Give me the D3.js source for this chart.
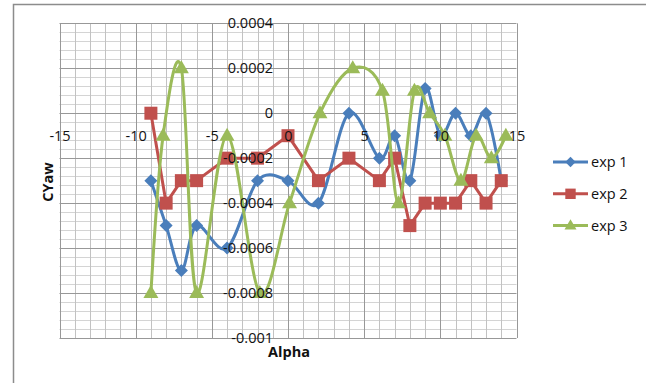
<!DOCTYPE html>
<html>
<head>
<meta charset="utf-8">
<script src="https://cdn.jsdelivr.net/npm/d3@7"></script>
<style>
  html, body { margin: 0; padding: 0; background: #fff; }
  svg { display: block; }
  text { font-family: "Open Sans", "Liberation Sans", sans-serif; fill: #111; }
</style>
</head>
<body>
<svg id="chart" width="646" height="383"></svg>
<script>
// Angle of attack for experiments 1 and 2
const alphaExp12 = [-9, -8, -7, -6, -4, -2, 0, 2, 4, 6, 7, 8, 9, 10, 11, 12, 13, 14];
// Yaw coefficient, experiment 1
const cyawExp1 = [-0.0003, -0.0005, -0.0007, -0.0005, -0.0006, -0.0003, -0.0003, -0.0004, 0,
                  -0.0002, -0.0001, -0.0003, 0.00011, -0.0001, 0, -0.0001, 0, -0.0003];
// Yaw coefficient, experiment 2
const cyawExp2 = [0, -0.0004, -0.0003, -0.0003, -0.0002, -0.0002, -0.0001, -0.0003, -0.0002,
                  -0.0003, -0.0002, -0.0005, -0.0004, -0.0004, -0.0004, -0.0003, -0.0004, -0.0003];
// Angle of attack for experiment 3
const alphaExp3 = [-9, -8.2, -7, -6, -4, -1.85, 0.1, 2.1, 4.25, 6.2, 7.25, 8.3, 9.3, 10.3, 11.35, 12.35, 13.35, 14.3];
// Yaw coefficient, experiment 3
const cyawExp3 = [-0.0008, -0.0001, 0.0002, -0.0008, -0.0001, -0.0008, -0.0004, 0, 0.0002,
                  0.0001, -0.0004, 0.0001, 0, -0.0001, -0.0003, -0.0001, -0.0002, -0.0001];

const seriesNames = ["exp 1", "exp 2", "exp 3"];
const seriesColors = ["#4a7ebb", "#c0504d", "#9bbb59"];
const seriesMarkers = ["diamond", "square", "triangle"];
const seriesSmooth = [true, false, true];

const xTicks = [-15, -10, -5, 0, 5, 10, 15];
const xTickLabels = ["-15", "-10", "-5", "0", "5", "10", "15"];
const yTicks = [0.0004, 0.0002, 0, -0.0002, -0.0004, -0.0006, -0.0008, -0.001];
const yTickLabels = ["0.0004", "0.0002", "0", "-0.0002", "-0.0004", "-0.0006", "-0.0008", "-0.001"];
const xMinorStep = 1;
const yMinorStep = 0.00004;

const series = [
  { x: alphaExp12, y: cyawExp1 },
  { x: alphaExp12, y: cyawExp2 },
  { x: alphaExp3, y: cyawExp3 }
].map((s, i) => ({
  name: seriesNames[i], color: seriesColors[i], marker: seriesMarkers[i], smooth: seriesSmooth[i],
  points: s.x.map((a, j) => ({ a, c: s.y[j] }))
}));

const svg = d3.select("#chart");

// chart area frame
svg.append("rect")
  .attr("x", 13.5).attr("y", 4.5).attr("width", 700).attr("height", 500)
  .attr("fill", "none").attr("stroke", "#8c8c8c").attr("stroke-width", 1.5);

const x = d3.scaleLinear().domain([-15, 15]).range([59.5, 516.5]);
const y = d3.scaleLinear().domain([-0.001, 0.0004]).range([338, 23.3]);

// gridlines: minor first, major on top
const grid = svg.append("g");
const xMinor = d3.range(-15, 15 + 1e-9, xMinorStep).filter(v => Math.abs(v % 5) > 1e-9);
const yMinor = d3.range(-0.001, 0.0004 + 1e-12, yMinorStep)
  .filter(v => Math.abs(Math.round(v / 0.0002) * 0.0002 - v) > 1e-9);
const snap = v => Math.round(v) + 0.5;

grid.selectAll(".ymin").data(yMinor).join("line")
  .attr("x1", x(-15)).attr("x2", x(15))
  .attr("y1", d => snap(y(d))).attr("y2", d => snap(y(d)))
  .attr("stroke", "#d4d4d4").attr("stroke-width", 1);
grid.selectAll(".xmin").data(xMinor).join("line")
  .attr("y1", y(0.0004)).attr("y2", y(-0.001))
  .attr("x1", d => snap(x(d))).attr("x2", d => snap(x(d)))
  .attr("stroke", "#c2c2c2").attr("stroke-width", 1);
grid.selectAll(".ymaj").data(yTicks).join("line")
  .attr("x1", x(-15)).attr("x2", x(15))
  .attr("y1", d => snap(y(d))).attr("y2", d => snap(y(d)))
  .attr("stroke", "#989898").attr("stroke-width", 1);
grid.selectAll(".xmaj").data(xTicks).join("line")
  .attr("y1", y(0.0004)).attr("y2", y(-0.001))
  .attr("x1", d => snap(x(d))).attr("x2", d => snap(x(d)))
  .attr("stroke", "#989898").attr("stroke-width", 1);

// marker shapes centred on (cx, cy)
function drawMarker(g, kind, cx, cy, color, k) {
  k = k || 1;
  if (kind === "diamond") {
    const r = 6.5 * k;
    g.append("path").attr("d", `M${cx},${cy - r}L${cx + r},${cy}L${cx},${cy + r}L${cx - r},${cy}Z`)
      .attr("fill", color);
  } else if (kind === "square") {
    const h = 6.5 * k;
    g.append("rect").attr("x", cx - h).attr("y", cy - h).attr("width", 2 * h).attr("height", 2 * h)
      .attr("fill", color);
  } else {
    const w = 7.5 * k, t = 8 * k, b = 5 * k;
    g.append("path").attr("d", `M${cx},${cy - t}L${cx + w},${cy + b}L${cx - w},${cy + b}Z`)
      .attr("fill", color);
  }
}

// series lines and markers
const plot = svg.append("g");
series.forEach(s => {
  const line = d3.line()
    .x(d => x(d.a)).y(d => y(d.c))
    .curve(s.smooth ? d3.curveCardinal.tension(0) : d3.curveLinear);
  const g = plot.append("g");
  g.append("path").datum(s.points)
    .attr("d", line).attr("fill", "none")
    .attr("stroke", s.color).attr("stroke-width", 3)
    .attr("stroke-linejoin", "round").attr("stroke-linecap", "round");
  s.points.forEach(p => drawMarker(g, s.marker, x(p.a), y(p.c), s.color));
});

// axes (labels only, drawn above the data)
const fontSize = "14.5px";
const xAxis = svg.append("g")
  .attr("transform", `translate(0,${y(0)})`)
  .call(d3.axisBottom(x).tickValues(xTicks).tickFormat((d, i) => xTickLabels[i]).tickSize(0).tickPadding(18));
xAxis.select(".domain").remove();
xAxis.selectAll("text").attr("font-size", fontSize).attr("fill", "#111")
  .attr("font-family", "'Open Sans', sans-serif");

const yAxis = svg.append("g")
  .attr("transform", `translate(${x(0)},0)`)
  .call(d3.axisLeft(y).tickValues(yTicks).tickFormat((d, i) => yTickLabels[i]).tickSize(0).tickPadding(15));
yAxis.select(".domain").remove();
yAxis.selectAll("text").attr("font-size", fontSize).attr("fill", "#111")
  .attr("font-family", "'Open Sans', sans-serif");

// axis titles
svg.append("text")
  .attr("x", 289).attr("y", 357)
  .attr("text-anchor", "middle").attr("font-size", fontSize).attr("font-weight", "bold")
  .text("Alpha");
svg.append("text")
  .attr("transform", "translate(53,182) rotate(-90)")
  .attr("text-anchor", "middle").attr("font-size", fontSize).attr("font-weight", "bold")
  .text("CYaw");

// legend
const legend = svg.append("g");
series.forEach((s, i) => {
  const cy = 162 + i * 31.8;
  const g = legend.append("g");
  g.append("line").attr("x1", 553).attr("x2", 588).attr("y1", cy).attr("y2", cy)
    .attr("stroke", s.color).attr("stroke-width", 3);
  drawMarker(g, s.marker, 570.5, cy, s.color, 0.8);
  g.append("text").attr("x", 591).attr("y", cy + 5.2)
    .attr("font-size", fontSize).text(s.name);
});
</script>
</body>
</html>
